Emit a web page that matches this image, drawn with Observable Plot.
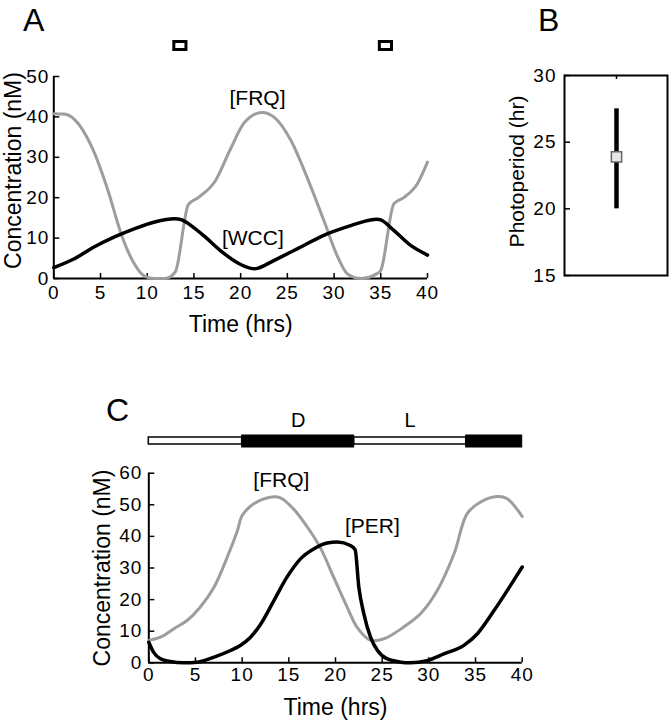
<!DOCTYPE html>
<html><head><meta charset="utf-8">
<script src="https://cdn.jsdelivr.net/npm/d3@7"></script>
<script src="https://cdn.jsdelivr.net/npm/@observablehq/plot@0.6"></script>
<style>
html,body{margin:0;padding:0;background:#fff;}
#fig{position:relative;width:669px;height:720px;overflow:hidden;font-family:"Liberation Sans",Arial,Helvetica,sans-serif;color:#000;}
.plab{position:absolute;font-size:32px;line-height:1;}
#fig g[aria-label$="tick label"] text{letter-spacing:1px;}
</style></head><body>
<div id="fig"></div>
<script>
// ---------- Panel A data (time in hrs, concentration in nM) ----------
const frqA = [[0,40.8],[1.1,40.7],[2.2,39.4],[4.0,32.9],[5.8,21.8],[7.2,11.1],[8.6,3.7],[9.7,0.6],[10.8,0],[11.9,0],[13.0,1.6],[14.4,18.3],[15.5,20.1],[17.3,24.2],[18.9,32.0],[20.4,38.6],[22.3,41.1],[23.6,39.9],[25.4,34.1],[27.1,25.1],[28.9,14.4],[30.4,5.3],[31.4,1.2],[32.9,0],[34.6,1.2],[35.0,2.0],[36.4,18.5],[37.5,20.1],[38.9,23.4],[40,28.8]];
const wccA = [[0,2.7],[2.2,4.9],[4.3,7.8],[6.5,10.3],[8.6,12.3],[10.8,14.0],[12.9,14.8],[13.7,14.5],[14.7,13.1],[16.2,10.3],[18.0,6.6],[19.8,3.7],[21.1,2.5],[21.8,2.5],[23.6,4.5],[26.1,7.4],[28.9,10.7],[31.8,13.1],[33.9,14.5],[35.0,14.5],[36.4,11.9],[38.2,8.2],[40,5.8]];
const pulseStartA = [12.9, 34.9];
const pulseEndA = [14.2, 36.2];
const labelsA = [{t:21.8, v:44.7, label:"[FRQ]"}, {t:21.3, v:9.9, label:"[WCC]"}];
const xTicks = [0,5,10,15,20,25,30,35,40];
const yTicksA = [0,10,20,30,40,50];

// ---------- Panel B data ----------
const groupB = ["model"];
const photoLow = [20];
const photoHigh = [27.5];
const photoMid = [23.9];
const yTicksB = [15,20,25,30];

// ---------- Panel C data ----------
const frqC = [[0,7.1],[1.25,8.1],[2.7,10.8],[4.1,13.4],[5.5,17.6],[7,24],[8.4,33.4],[9.5,41.9],[10,46.6],[11.25,50.3],[13.0,52.4],[14.1,52.2],[15.5,48.7],[17,42.9],[18.4,36.3],[19.8,27.1],[21.25,17.6],[22.3,11.3],[23.75,7.1],[25.2,7.6],[27.3,11.3],[29.1,15.5],[30.9,22.9],[32.7,34.5],[34.1,47.2],[35.5,50.8],[37.3,52.6],[38.4,51.9],[40,46.3]];
const perC = [[0,6.5],[0.5,3.4],[1.25,1.3],[2.3,0.4],[3.75,0],[5.2,0.2],[7,1.8],[8.75,3.9],[9.8,5.5],[10.9,8.1],[12,12.3],[13.4,19.7],[14.8,27.1],[16.25,32.9],[17.7,36.1],[19.1,37.9],[20.2,38.2],[21.6,37.1],[22.1,35.8],[22.5,23.9],[23.04,15.5],[23.75,8.1],[24.5,3.9],[25.5,1.3],[27,0.2],[28,0],[29.8,0.7],[31.6,2.8],[33.75,5.5],[35.2,9.2],[37,16.6],[38.75,24.5],[40,30.3]];
const ldStart = [0,10,22,34];
const ldEnd = [10,22,34,40];
const ldPhase = ["L","D","L","D"];
const ldLabel = ["","D","L",""];
const labelsC = [{t:14.2, v:57.7, label:"[FRQ]"}, {t:23.95, v:43.1, label:"[PER]"}];
const yTicksC = [0,10,20,30,40,50,60];

// ---------- build ----------
const FONT = '"Liberation Sans", Arial, Helvetica, sans-serif';
const GRAY = "#9d9d9d";
const toPts = a => a.map(([t, v]) => ({t, v}));
const fig = document.getElementById("fig");
function place(el, left, top) {
  el.style.position = "absolute";
  el.style.left = left + "px";
  el.style.top = top + "px";
  fig.appendChild(el);
}
const baseStyle = {fontFamily: FONT, fontSize: "19px", background: "transparent", overflow: "visible", color: "black"};
const xTitle = (dy) => Plot.text(["Time (hrs)"], {frameAnchor: "bottom", textAnchor: "middle", lineAnchor: "middle", dy, fontSize: 23});
const yTitle = (txt, dx, dy, fs) => Plot.text([txt], {frameAnchor: "left", textAnchor: "middle", lineAnchor: "middle", rotate: -90, dx, dy, fontSize: fs});

// Panel A light pulses
const pulses = pulseStartA.map((s, i) => ({start: s, end: pulseEndA[i]}));
const pulsePlot = Plot.plot({
  width: 440, height: 11, marginLeft: 53.3, marginRight: 13, marginTop: 1.5, marginBottom: 1.5,
  axis: null, style: baseStyle,
  x: {domain: [0, 40]}, y: {domain: [0, 1]},
  marks: [Plot.rect(pulses, {x1: "start", x2: "end", y1: 0, y2: 1, fill: "white", stroke: "black", strokeWidth: 3})]
});
place(pulsePlot, 0, 40);

// Panel A
const plotA = Plot.plot({
  width: 440, height: 345, marginLeft: 53.3, marginRight: 13, marginTop: 76, marginBottom: 67,
  style: baseStyle,
  x: {domain: [0, 40]}, y: {domain: [0, 50]},
  marks: [
    Plot.axisX({ticks: xTicks, tickSize: -5, tickPadding: 12, strokeWidth: 1.5, label: null}),
    Plot.axisY({ticks: yTicksA, tickSize: -6, tickPadding: 10.5, strokeWidth: 1.5, label: null}),
    Plot.ruleX([0], {strokeWidth: 2}),
    Plot.ruleY([0], {strokeWidth: 2}),
    Plot.line(toPts(frqA), {x: "t", y: "v", stroke: GRAY, strokeWidth: 3, curve: "monotone-x"}),
    Plot.line(toPts(wccA), {x: "t", y: "v", stroke: "black", strokeWidth: 3.5, curve: "catmull-rom"}),
    Plot.text(labelsA, {x: "t", y: "v", text: "label", fontSize: 21}),
    xTitle(46),
    yTitle("Concentration (nM)", -40, -7, 23)
  ]
});
place(plotA, 0, 0);

// Panel B
const bData = groupB.map((g, i) => ({group: g, lo: photoLow[i], hi: photoHigh[i], mid: photoMid[i]}));
const plotB = Plot.plot({
  width: 229, height: 300, marginLeft: 124, marginRight: 2, marginTop: 75, marginBottom: 25,
  style: baseStyle,
  x: {type: "point", domain: groupB}, y: {domain: [15, 30]},
  marks: [
    Plot.frame({stroke: "black", strokeWidth: 2}),
    Plot.axisY({ticks: yTicksB, tickSize: -6, tickPadding: 14, strokeWidth: 1.5, label: null}),
    Plot.axisX({anchor: "top", tickSize: -3, tickFormat: () => "", strokeWidth: 1.5, label: null}),
    Plot.ruleX(bData, {x: "group", y1: "lo", y2: "hi", strokeWidth: 4.5}),
    Plot.dot(bData, {x: "group", y: "mid", symbol: "square", r: 5.8, fill: "#e8e8e8", stroke: "#666", strokeWidth: 1.5}),
    yTitle("Photoperiod (hr)", -47, -4, 21)
  ]
});
place(plotB, 440, 0);

// Panel C light/dark bar
const ld = ldStart.map((s, i) => ({start: s, end: ldEnd[i], phase: ldPhase[i], label: ldLabel[i]}));
const ldPlot = Plot.plot({
  width: 560, height: 40, marginLeft: 148.3, marginRight: 38.3, marginTop: 25, marginBottom: 3,
  axis: null, style: baseStyle,
  x: {domain: [0, 40]}, y: {domain: [0, 1]},
  marks: [
    Plot.rect(ld, {filter: d => d.phase === "L", x1: "start", x2: "end", y1: 0, y2: 1, insetTop: 2, insetBottom: 3, fill: "white", stroke: "black", strokeWidth: 1.5}),
    Plot.rect(ld, {filter: d => d.phase === "D", x1: "start", x2: "end", y1: 0, y2: 1, fill: "black", stroke: "black", strokeWidth: 1}),
    Plot.text(ld, {filter: d => d.label, x: d => (d.start + d.end) / 2, y: 1, dy: -15, text: "label", fontSize: 20})
  ]
});
place(ldPlot, 0, 410);

// Panel C
const plotC = Plot.plot({
  width: 560, height: 270, marginLeft: 148.3, marginRight: 38.3, marginTop: 22.7, marginBottom: 57.7,
  style: baseStyle,
  x: {domain: [0, 40]}, y: {domain: [0, 60]},
  marks: [
    Plot.axisX({ticks: xTicks, tickSize: -5, tickPadding: 10, strokeWidth: 1.5, label: null}),
    Plot.axisY({ticks: yTicksC, tickSize: -6, tickPadding: 12.5, strokeWidth: 1.5, label: null}),
    Plot.ruleX([0], {strokeWidth: 2}),
    Plot.ruleY([0], {strokeWidth: 2}),
    Plot.line(toPts(frqC), {x: "t", y: "v", stroke: GRAY, strokeWidth: 3, curve: "catmull-rom"}),
    Plot.line(toPts(perC), {x: "t", y: "v", stroke: "black", strokeWidth: 3.5, curve: "monotone-x"}),
    Plot.text(labelsC, {x: "t", y: "v", text: "label", fontSize: 21}),
    xTitle(45),
    yTitle("Concentration (nM)", -46, 0, 23)
  ]
});
place(plotC, 0, 450);

// Panel letters
[["A", 23, 4], ["B", 538, 4], ["C", 106, 394]].forEach(([t, x, y]) => {
  const d = document.createElement("div");
  d.className = "plab";
  d.textContent = t;
  d.style.left = x + "px";
  d.style.top = y + "px";
  fig.appendChild(d);
});
</script>
</body></html>
